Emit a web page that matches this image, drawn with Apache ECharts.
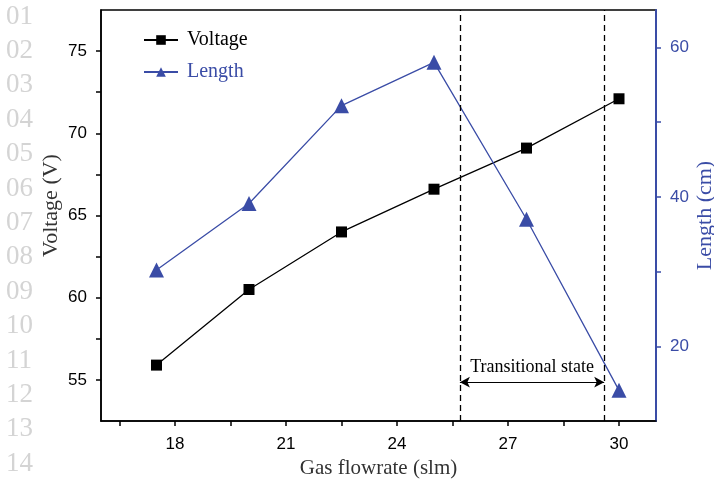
<!DOCTYPE html>
<html>
<head>
<meta charset="utf-8">
<script src="https://cdn.jsdelivr.net/npm/echarts@6/dist/echarts.min.js"></script>
<style>
  html, body { margin: 0; padding: 0; background: #fff; }
  #chart { width: 714px; height: 485px; }
</style>
</head>
<body>
<div id="chart"></div>
<script>
// gas flowrate (slm)
var flowrate = [17.5, 20, 22.5, 25, 27.5, 30];
// arc voltage (V)
var voltage = [55.9, 60.5, 64.0, 66.6, 69.1, 72.1];
// plasma length (cm)
var length = [30.2, 39.1, 52.2, 58.0, 37.0, 14.1];

var xLabels = [18, 21, 24, 27, 30];
var xTicks = [16.5, 18, 19.5, 21, 22.5, 24, 25.5, 27, 28.5, 30];
var vLabels = [55, 60, 65, 70, 75];
var vTicks = [55, 57.5, 60, 62.5, 65, 67.5, 70, 72.5, 75];
var lLabels = [20, 40, 60];
var lTicks = [20, 30, 40, 50, 60];
// edges of the transitional state
var transition = [25.7, 29.6];
var lineNos = ['01','02','03','04','05','06','07','08','09','10','11','12','13','14'];

var BLUE = '#3a4ca6';
var SERIF = '"Liberation Serif", "DejaVu Serif", serif';
var SANS = '"Liberation Sans", Arial, sans-serif';

function pair(a, b) {
	return a.map(function(v, i) { return [v, b[i]]; });
}

var chart = echarts.init(document.getElementById('chart'));

var option = {
	animation: false,
	backgroundColor: '#fff',
	grid: {
		left: 101, top: 10, right: 58, bottom: 64,
		outerBoundsMode: 'none', containLabel: false,
		show: true, borderColor: '#000', borderWidth: 1.5
	},
	legend: {
		left: 138, top: 25, orient: 'vertical',
		itemWidth: 34, itemHeight: 12, itemGap: 12,
		textStyle: { fontFamily: SERIF, fontSize: 20, color: '#000', padding: [0, 0, 0, 4] },
		data: [
			{ name: 'Voltage' },
			{ name: 'Length', textStyle: { color: BLUE } }
		]
	},
	graphic: lineNos.map(function(t, i) {
		return {
			type: 'text', left: 6, top: 3 + i * 34.4,
			style: { text: t, fill: '#d4d4d4', font: '27px ' + SERIF }
		};
	}),
	xAxis: {
		type: 'value', min: 16, max: 31,
		name: 'Gas flowrate (slm)', nameLocation: 'middle', nameGap: 36,
		nameTextStyle: { fontFamily: SERIF, fontSize: 21, color: '#333' },
		axisLine: { lineStyle: { color: '#000', width: 1.5 } },
		axisTick: { inside: false, length: 5, lineStyle: { color: '#000', width: 1.5 }, customValues: xTicks },
		axisLabel: { customValues: xLabels, margin: 15, fontFamily: SANS, fontSize: 17, color: '#000' },
		splitLine: { show: false }
	},
	yAxis: [{
		type: 'value', min: 52.5, max: 77.5, position: 'left',
		name: 'Voltage (V)', nameLocation: 'middle', nameGap: 39, nameRotate: 90,
		nameMoveOverlap: false,
		nameTextStyle: { fontFamily: SERIF, fontSize: 22, color: '#333', padding: [0, 0, 0, 20] },
		axisLine: { show: true, lineStyle: { color: '#000', width: 1.5 } },
		axisTick: { show: true, length: 5, lineStyle: { color: '#000', width: 1.5 }, customValues: vTicks },
		axisLabel: { customValues: vLabels, margin: 14, fontFamily: SANS, fontSize: 17, color: '#000' },
		splitLine: { show: false }
	}, {
		type: 'value', min: 10, max: 65, position: 'right',
		name: 'Length (cm)', nameLocation: 'middle', nameGap: 38, nameRotate: 90,
		nameMoveOverlap: false,
		nameTextStyle: { fontFamily: SERIF, fontSize: 22, color: BLUE },
		axisLine: { show: true, lineStyle: { color: BLUE, width: 2 } },
		axisTick: { show: true, length: 5, lineStyle: { color: BLUE, width: 1.5 }, customValues: lTicks },
		axisLabel: { customValues: lLabels, margin: 14, fontFamily: SANS, fontSize: 17, color: BLUE },
		splitLine: { show: false }
	}],
	series: [{
		name: 'Voltage', type: 'line', yAxisIndex: 0,
		data: pair(flowrate, voltage),
		symbol: 'rect', symbolSize: 11,
		itemStyle: { color: '#000' },
		lineStyle: { color: '#000', width: 1.3 },
		markLine: {
			silent: true, symbol: 'none',
			lineStyle: { color: '#000', type: [6, 4], width: 1.3 },
			label: { show: false },
			data: transition.map(function(v) { return { xAxis: v }; })
		}
	}, {
		name: 'Length', type: 'line', yAxisIndex: 1,
		data: pair(flowrate, length),
		symbol: 'triangle', symbolSize: 15,
		itemStyle: { color: BLUE },
		lineStyle: { color: BLUE, width: 1.3 },
		markLine: {
			silent: true, symbol: ['arrow', 'arrow'], symbolSize: [8, 10],
			lineStyle: { color: '#000', type: 'solid', width: 1.2 },
			label: {
				show: true, position: 'insideMiddleTop', distance: 6,
				formatter: 'Transitional state',
				fontFamily: SERIF, fontSize: 18, color: '#000'
			},
			data: [[{ coord: [transition[0], 15.2] }, { coord: [transition[1], 15.2] }]]
		}
	}]
};

chart.setOption(option);
</script>
</body>
</html>
